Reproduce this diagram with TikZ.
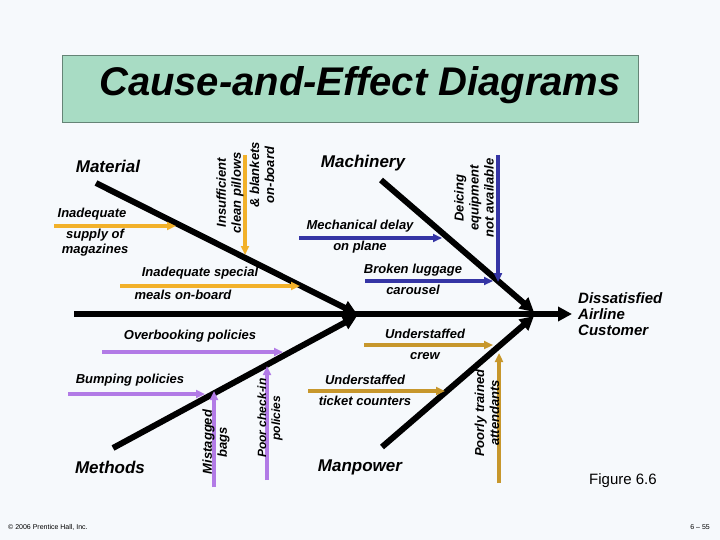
\documentclass[tikz,border=0pt]{standalone}
\usepackage{fontspec}
\setmainfont{Liberation Sans}
\usetikzlibrary{arrows.meta}
\definecolor{bg}{HTML}{F6F9FC}
\definecolor{tbox}{HTML}{A8DCC4}
\definecolor{cor}{HTML}{F2B12A}
\definecolor{cbl}{HTML}{3535A5}
\definecolor{cpu}{HTML}{B27BE6}
\definecolor{cgo}{HTML}{C7972C}
\begin{document}
\begin{tikzpicture}[x=1pt,y=-1pt,
 bone/.style={line width=6pt,-{Triangle[length=14pt,width=14pt]}},
 br/.style={line width=3.5pt,-{Triangle[length=9pt,width=8pt]}},
 lb/.style={font=\fontsize{13}{15}\selectfont\bfseries\itshape,inner sep=0pt,align=center},
 big/.style={font=\fontsize{17}{19}\selectfont\bfseries\itshape,inner sep=0pt},
 rl/.style={lb,rotate=90}]
\fill[bg] (0,0) rectangle (720,540);
\useasboundingbox (0,0) rectangle (720,540);
\draw[tbox!60!black,fill=tbox] (62,55) rectangle (638,122);
\node[font=\fontsize{40}{44}\selectfont\bfseries\itshape] (title) at (360,85) {Cause-and-Effect Diagrams};
% spine & bones
\coordinate (s0) at (74,314); \coordinate (s1) at (572,314);
\draw[bone] (s0) -- (s1);
\coordinate (ma0) at (96,183); \coordinate (ma1) at (357,314);
\draw[bone] (ma0) -- (ma1);
\coordinate (mc0) at (381,180); \coordinate (mc1) at (534,312);
\draw[bone] (mc0) -- (mc1);
\coordinate (me0) at (113,448); \coordinate (me1) at (357,316);
\draw[bone] (me0) -- (me1);
\coordinate (mp0) at (382,447); \coordinate (mp1) at (534,316);
\draw[bone] (mp0) -- (mp1);
% branches
\coordinate (a1) at (54,226); \coordinate (a2) at (176,226);
\draw[br,cor] (a1) -- (a2);
\coordinate (b1) at (245,155); \coordinate (b2) at (245,255);
\draw[br,cor] (b1) -- (b2);
\coordinate (c1) at (120,286); \coordinate (c2) at (300,286);
\draw[br,cor] (c1) -- (c2);
\coordinate (d1) at (299,238); \coordinate (d2) at (442,238);
\draw[br,cbl] (d1) -- (d2);
\coordinate (e1) at (498,155); \coordinate (e2) at (498,282);
\draw[br,cbl] (e1) -- (e2);
\coordinate (f1) at (365,281); \coordinate (f2) at (493,281);
\draw[br,cbl] (f1) -- (f2);
\coordinate (g1) at (102,352); \coordinate (g2) at (283,352);
\draw[br,cpu] (g1) -- (g2);
\coordinate (h1) at (68,394); \coordinate (h2) at (205,394);
\draw[br,cpu] (h1) -- (h2);
\coordinate (i1) at (214,487); \coordinate (i2) at (214,391);
\draw[br,cpu] (i1) -- (i2);
\coordinate (j1) at (267,480); \coordinate (j2) at (267,366);
\draw[br,cpu] (j1) -- (j2);
\coordinate (k1) at (364,345); \coordinate (k2) at (493,345);
\draw[br,cgo] (k1) -- (k2);
\coordinate (l1) at (308,391); \coordinate (l2) at (445,391);
\draw[br,cgo] (l1) -- (l2);
\coordinate (m1) at (499,483); \coordinate (m2) at (499,353);
\draw[br,cgo] (m1) -- (m2);
% labels
\node[big] (tmat) at (108,166) {Material};
\node[big] (tmac) at (363,163) {Machinery};
\node[big] (tmet) at (110,467) {Methods};
\node[big] (tman) at (360,467) {Manpower};
\node[lb] (t1) at (92,214) {Inadequate};
\node[lb] (t2) at (95,243) {supply of\\magazines};
\node[rl] (t3) at (230,193) {Insufficient\\clean pillows};
\node[rl] (t4) at (262,175) {\& blankets\\on-board};
\node[lb] (t5) at (200,273) {Inadequate special};
\node[lb] (t6) at (183,295) {meals on-board};
\node[lb] (t7) at (360,226) {Mechanical delay};
\node[lb] (t8) at (360,247) {on plane};
\node[rl] (t9) at (474,198) {Deicing\\equipment\\not available};
\node[lb] (t10) at (413,270) {Broken luggage};
\node[lb] (t11) at (413,290) {carousel};
\node[font=\fontsize{15}{16}\selectfont\bfseries\itshape,align=left,inner sep=0pt,anchor=west] (t12) at (578,314) {Dissatisfied\\Airline\\Customer};
\node[lb] (t13) at (190,336) {Overbooking policies};
\node[lb] (t14) at (425,334) {Understaffed};
\node[lb] (t15) at (425,356) {crew};
\node[lb] (t16) at (130,380) {Bumping policies};
\node[lb] (t17) at (365,380) {Understaffed};
\node[lb] (t18) at (365,401) {ticket counters};
\node[rl] (t19) at (216,442) {Mistagged\\bags};
\node[rl,font=\fontsize{12}{14}\selectfont\bfseries\itshape] (t20) at (270,418) {Poor check-in\\policies};
\node[rl] (t21) at (487,413) {Poorly trained\\attendants};
\node[font=\fontsize{15}{16}\selectfont,inner sep=0pt] (t22) at (623,481) {Figure 6.6};
\node[font=\fontsize{7}{8}\selectfont,inner sep=0pt,anchor=west] (t23) at (8,527) {© 2006 Prentice Hall, Inc.};
\node[font=\fontsize{7}{8}\selectfont,inner sep=0pt,anchor=east] (t24) at (710,527) {6 – 55};
\end{tikzpicture}
\end{document}
